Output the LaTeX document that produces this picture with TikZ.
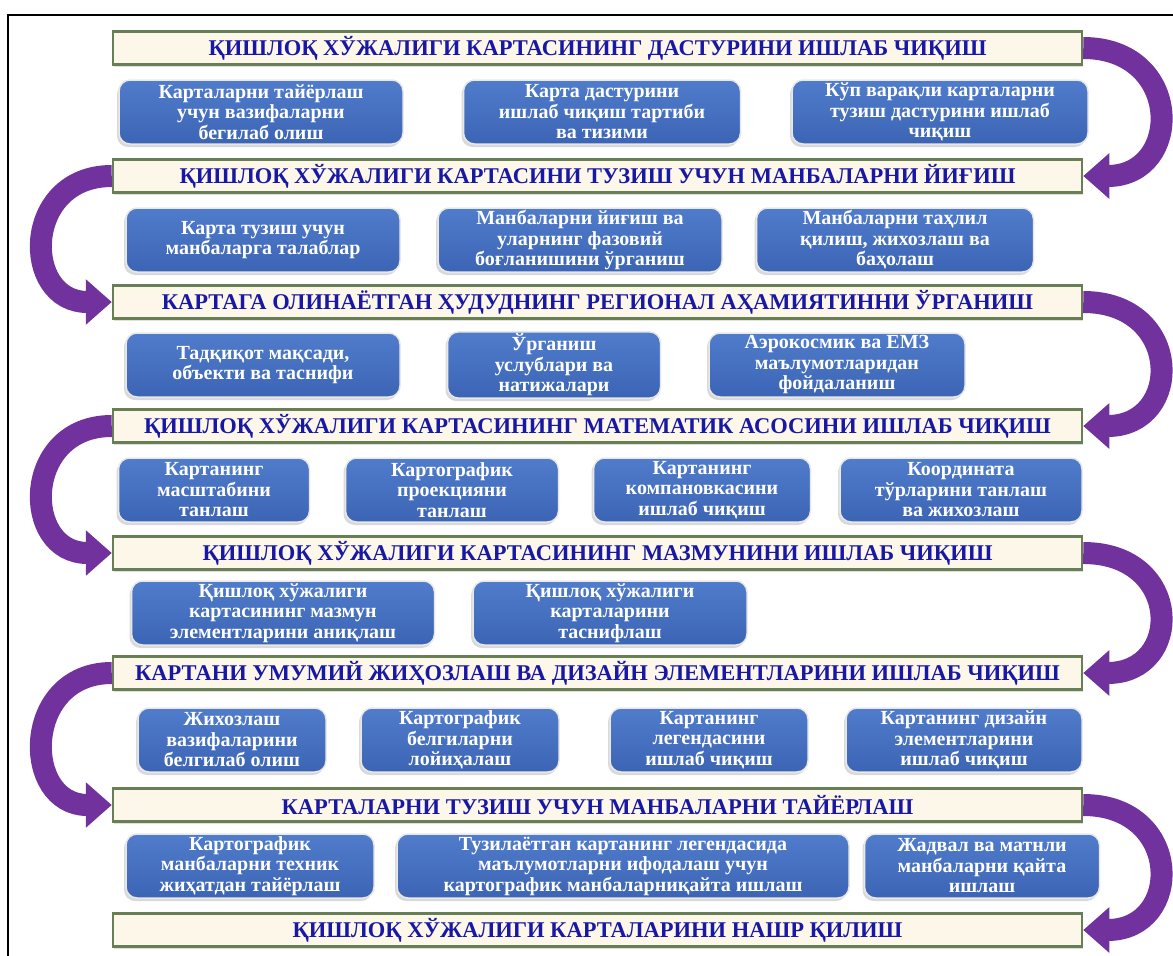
\documentclass[tikz,border=0pt]{standalone}
\usepackage{fontspec}
\setmainfont{Liberation Serif}
\usetikzlibrary{arrows.meta, shadows}

\definecolor{headblue}{RGB}{24,24,165}
\definecolor{boxtop}{RGB}{80,124,204}
\definecolor{boxbottom}{RGB}{60,100,180}
\definecolor{barfill}{RGB}{252,247,232}
\definecolor{barline}{RGB}{104,126,84}
\definecolor{loopviolet}{RGB}{114,50,158}

\begin{document}
\begin{tikzpicture}[
            x = 1pt, y = -1pt, % pixel grid of the sheet, y downwards
            > = {Triangle[width=44pt, length=26pt]}, % arrow head style
            semithick
        ]

        \tikzstyle{stage}=[
            draw = barline,
            line width = 2.5pt,
            fill = barfill,
            minimum width = 969pt,
            minimum height = 33pt,
            inner sep = 0pt,
            text = headblue,
            font = \fontsize{22.5}{25}\selectfont\bfseries,
            drop shadow = {shadow xshift=1pt, shadow yshift=-2pt, opacity=.25}
        ]
        \tikzstyle{task}=[
            rounded corners = 11pt,
            draw = white!82!gray,
            line width = 1.5pt,
            top color = boxtop,
            bottom color = boxbottom,
            minimum height = 64pt,
            inner sep = 2pt,
            align = center,
            text = white,
            font = \fontsize{20}{20.5}\selectfont\bfseries,
            drop shadow = {shadow xshift=-2pt, shadow yshift=-3pt, opacity=.3}
        ]
        \tikzstyle{turn}=[
            ->,
            draw = loopviolet,
            line width = 22pt
        ]

        \useasboundingbox (0,0) rectangle (1173,956);
        \draw[line width=2pt] (8,956) -- (8,15) -- (1173,15);

        \node[stage] (h1) at (597.5,48)  {ҚИШЛОҚ ХЎЖАЛИГИ КАРТАСИНИНГ ДАСТУРИНИ ИШЛАБ ЧИҚИШ};
        \node[task, minimum width=284pt] (t11) at (261,112) {Карталарни тайёрлаш\\учун вазифаларни\\бегилаб олиш};
        \node[task, minimum width=277pt] (t12) at (602,112) {Карта дастурини\\ишлаб чиқиш тартиби\\ва тизими};
        \node[task, minimum width=296pt] (t13) at (940,112) {Кўп варақли карталарни\\тузиш дастурини ишлаб\\чиқиш};

        \node[stage] (h2) at (597.5,176) {ҚИШЛОҚ ХЎЖАЛИГИ КАРТАСИНИ ТУЗИШ УЧУН МАНБАЛАРНИ ЙИҒИШ};
        \node[task, minimum width=274pt] (t21) at (263,240) {Карта тузиш учун\\манбаларга талаблар};
        \node[task, minimum width=284pt] (t22) at (580,240) {Манбаларни йиғиш ва\\уларнинг фазовий\\боғланишини ўрганиш};
        \node[task, minimum width=277pt] (t23) at (895,240) {Манбаларни таҳлил\\қилиш, жихозлаш ва\\баҳолаш};

        \node[stage] (h3) at (597.5,302) {КАРТАГА ОЛИНАЁТГАН ҲУДУДНИНГ РЕГИОНАЛ АҲАМИЯТИННИ ЎРГАНИШ};
        \node[task, minimum width=274pt] (t31) at (263,365) {Тадқиқот мақсади,\\объекти ва таснифи};
        \node[task, minimum width=213pt] (t32) at (554,365) {Ўрганиш\\услублари ва\\натижалари};
        \node[task, minimum width=256pt] (t33) at (837,365) {Аэрокосмик ва ЕМЗ\\маълумотларидан\\фойдаланиш};

        \node[stage] (h4) at (597.5,426) {ҚИШЛОҚ ХЎЖАЛИГИ КАРТАСИНИНГ МАТЕМАТИК АСОСИНИ ИШЛАБ ЧИҚИШ};
        \node[task, minimum width=191pt] (t41) at (214,490) {Картанинг\\масштабини\\танлаш};
        \node[task, minimum width=213pt] (t42) at (452,490) {Картографик\\проекцияни\\танлаш};
        \node[task, minimum width=217pt] (t43) at (702,490) {Картанинг\\компановкасини\\ишлаб чиқиш};
        \node[task, minimum width=242pt] (t44) at (961,490) {Координата\\тўрларини танлаш\\ва жихозлаш};

        \node[stage] (h5) at (597.5,553) {ҚИШЛОҚ ХЎЖАЛИГИ КАРТАСИНИНГ МАЗМУНИНИ ИШЛАБ ЧИҚИШ};
        \node[task, minimum width=303pt] (t51) at (283,613) {Қишлоқ хўжалиги\\картасининг мазмун\\элементларини аниқлаш};
        \node[task, minimum width=274pt] (t52) at (610,613) {Қишлоқ хўжалиги\\карталарини\\таснифлаш};

        \node[stage] (h6) at (597.5,673) {КАРТАНИ УМУМИЙ ЖИҲОЗЛАШ ВА ДИЗАЙН ЭЛЕМЕНТЛАРИНИ ИШЛАБ ЧИҚИШ};
        \node[task, minimum width=188pt] (t61) at (232,740) {Жихозлаш\\вазифаларини\\белгилаб олиш};
        \node[task, minimum width=198pt] (t62) at (460,740) {Картографик\\белгиларни\\лойиҳалаш};
        \node[task, minimum width=198pt] (t63) at (709,740) {Картанинг\\легендасини\\ишлаб чиқиш};
        \node[task, minimum width=236pt] (t64) at (964,740) {Картанинг дизайн\\элементларини\\ишлаб чиқиш};

        \node[stage] (h7) at (597.5,805) {КАРТАЛАРНИ ТУЗИШ УЧУН МАНБАЛАРНИ ТАЙЁРЛАШ};
        \node[task, minimum width=248pt] (t71) at (250,866) {Картографик\\манбаларни техник\\жиҳатдан тайёрлаш};
        \node[task, minimum width=452pt] (t72) at (623,866) {Тузилаётган картанинг легендасида\\маълумотларни ифодалаш учун\\картографик манбаларниқайта ишлаш};
        \node[task, minimum width=235pt] (t73) at (982,866) {Жадвал ва матнли\\манбаларни қайта\\ишлаш};

        \node[stage] (h8) at (597.5,930) {ҚИШЛОҚ ХЎЖАЛИГИ КАРТАЛАРИНИ НАШР ҚИЛИШ};

        % turning arrows, right and left in turn
        \draw[turn] (h1.east) .. controls +(100,0) and +(100,0) .. (h2.east);
        \draw[turn] (h2.west) .. controls +(-90,0) and +(-90,0) .. (h3.west);
        \draw[turn] (h3.east) .. controls +(100,0) and +(100,0) .. (h4.east);
        \draw[turn] (h4.west) .. controls +(-90,0) and +(-90,0) .. (h5.west);
        \draw[turn] (h5.east) .. controls +(100,0) and +(100,0) .. (h6.east);
        \draw[turn] (h6.west) .. controls +(-90,0) and +(-90,0) .. (h7.west);
        \draw[turn] (h7.east) .. controls +(100,0) and +(100,0) .. (h8.east);
    \end{tikzpicture}
\end{document}
